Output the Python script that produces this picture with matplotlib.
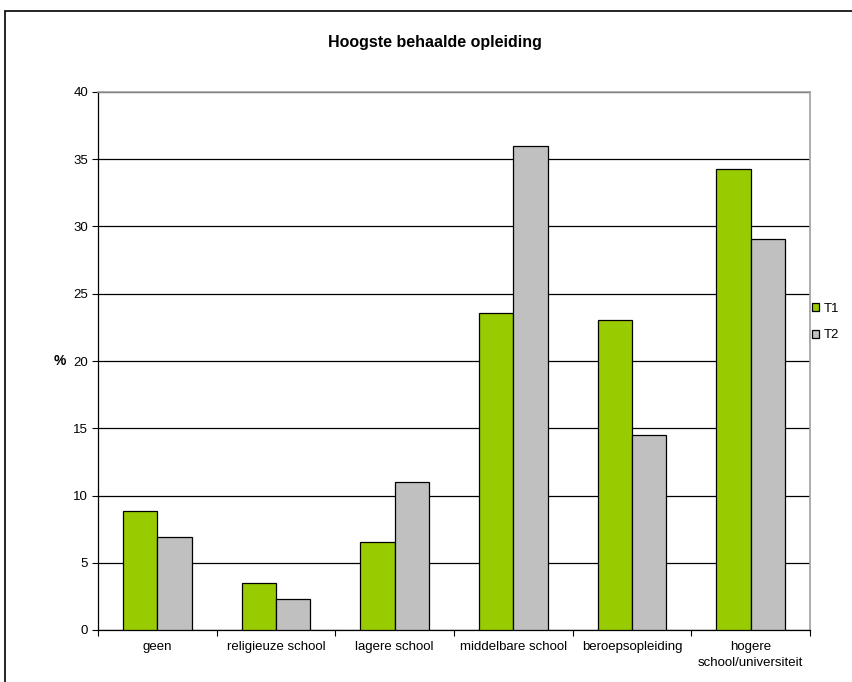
import numpy as np
import matplotlib
matplotlib.use('Agg')
import matplotlib.pyplot as plt
from matplotlib.patches import Rectangle

plt.rcParams['font.family'] = ['Liberation Sans', 'DejaVu Sans']

categories = ['geen', 'religieuze school', 'lagere school', 'middelbare school',
              'beroepsopleiding', 'hogere\nschool/universiteit']
t1 = [8.85, 3.5, 6.55, 23.6, 23.05, 34.3]
t2 = [6.95, 2.3, 11.0, 36.0, 14.5, 29.05]
yticks = [0, 5, 10, 15, 20, 25, 30, 35, 40]

fig = plt.figure(figsize=(8.52, 6.82), dpi=100)
ax = fig.add_axes([98/852, 52/682, 712/852, 538/682])

x = np.arange(len(categories))
w = 0.29
ax.bar(x - w/2, t1, w, color='#99CC00', edgecolor='black', linewidth=0.9, label='T1', zorder=3)
ax.bar(x + w/2, t2, w, color='#C0C0C0', edgecolor='black', linewidth=0.9, label='T2', zorder=3)

ax.set_xlim(-0.5, len(categories) - 0.5)
ax.set_ylim(0, 40)
ax.set_yticks(yticks)
ax.tick_params(axis='y', labelsize=9.5, length=4, width=0.8, direction='out', pad=3)
ax.yaxis.grid(True, color='black', linewidth=0.9, zorder=0)

# category labels between boundary ticks
ax.set_xticks(np.arange(len(categories) + 1) - 0.5)
ax.set_xticklabels([])
ax.set_xticks(x, minor=True)
ax.set_xticklabels(categories, minor=True, fontsize=9.5, linespacing=1.45)
ax.tick_params(axis='x', which='major', length=4, width=0.8, direction='out')
ax.tick_params(axis='x', which='minor', length=0, pad=8)

for s in ['top', 'right']:
    ax.spines[s].set_color('#A0A0A0')
    ax.spines[s].set_linewidth(1.2)
for s in ['left', 'bottom']:
    ax.spines[s].set_color('black')
    ax.spines[s].set_linewidth(0.9)

ax.set_ylabel('%', fontsize=10, fontweight='bold', rotation=0, labelpad=10, va='center')

fig.text(435/852, 1 - 42/682, 'Hoogste behaalde opleiding', ha='center', va='center',
         fontsize=11.5, fontweight='bold')

fig.legend(loc='center left', bbox_to_anchor=(800/852, 1 - 322/682), frameon=False,
           fontsize=9.5, handlelength=0.55, handleheight=0.55, handletextpad=0.35,
           labelspacing=1.1)

fig.patches.append(Rectangle((5/852, -0.1), 1.2, 1 - 11/682 + 0.1, transform=fig.transFigure,
                             fill=False, edgecolor='black', linewidth=1.2))

plt.savefig('out.png', dpi=100)
